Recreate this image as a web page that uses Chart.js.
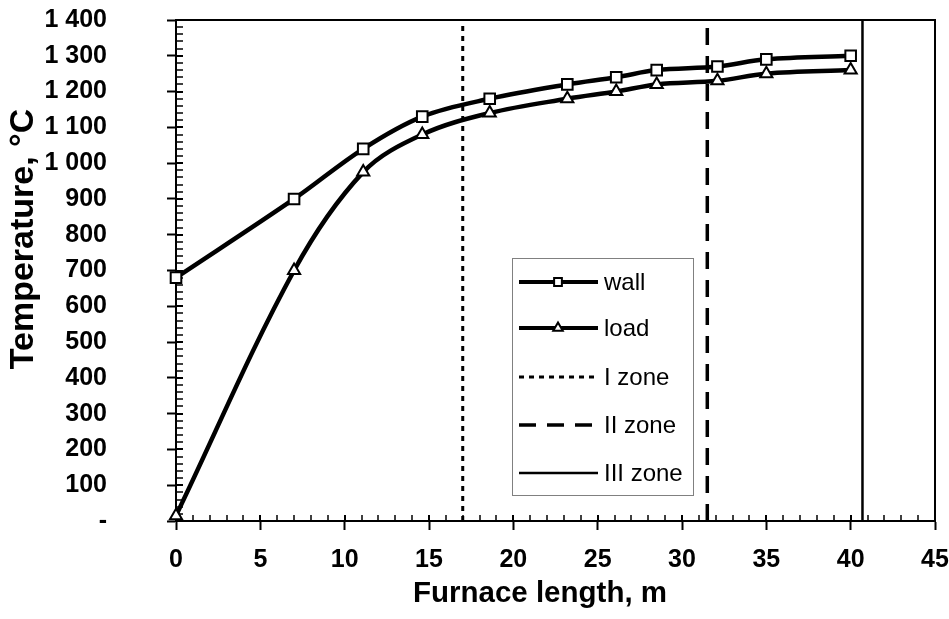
<!DOCTYPE html>
<html>
<head>
<meta charset="utf-8">
<script src="https://cdn.jsdelivr.net/npm/chart.js@4.4.0/dist/chart.umd.min.js"></script>
<style>
  html, body { margin: 0; padding: 0; background: #fff; }
</style>
</head>
<body>
<canvas id="furnaceChart" width="949" height="619"></canvas>
<script>
// ── DATA ──────────────────────────────────────────────
const lengths   = [0, 7, 11.1, 14.6, 18.6, 23.2, 26.1, 28.5, 32.1, 35, 40];
const wallTemps = [680, 900, 1040, 1130, 1180, 1220, 1240, 1260, 1270, 1290, 1300];
const loadTemps = [15, 700, 975, 1080, 1140, 1180, 1200, 1220, 1230, 1250, 1260];
const zoneNames = ['I zone', 'II zone', 'III zone'];
const zoneEnds  = [17, 31.5, 40.7];
const xRange = [0, 45], xStep = 5;
const yRange = [0, 1400], yStep = 100;

const FONT = '"Liberation Sans", Arial, sans-serif';
const toPoints = ys => lengths.map((x, i) => ({ x, y: ys[i] }));
const zoneLine = x => [{ x, y: yRange[0] }, { x, y: yRange[1] }];
const fmtTemp = v => v === 0 ? '-' : String(v).replace(/\B(?=(\d{3})+(?!\d))/g, ' ');

// ── MARKER ────────────────────────────────────────────
function marker(ctx, style, x, y, r) {
    ctx.beginPath();
    if (style === 'rect') { const s = r * Math.SQRT1_2; ctx.rect(x - s, y - s, 2 * s, 2 * s); }
    else { const c = r * Math.cos(Math.PI / 6); ctx.moveTo(x, y - r); ctx.lineTo(x + c, y + r / 2); ctx.lineTo(x - c, y + r / 2); ctx.closePath(); }
    ctx.fillStyle = '#fff'; ctx.fill();
    ctx.lineWidth = 2; ctx.strokeStyle = '#000'; ctx.stroke();
}

// ── FRAME, MINOR TICKS, TITLES, LEGEND ────────────────
const decor = {
    id: 'decor',
    beforeDatasetsDraw(chart) {
        const { ctx, chartArea: a, scales: { x, y } } = chart;
        ctx.save();
        ctx.strokeStyle = '#000';
        ctx.lineWidth = 2;
        ctx.beginPath(); ctx.moveTo(a.left, a.top); ctx.lineTo(a.right, a.top); ctx.lineTo(a.right, a.bottom); ctx.stroke();
        // inner ticks: every 1 m on x, every 20 °C on y
        for (let v = xRange[0]; v <= xRange[1]; v += 1) {
            const px = Math.round(x.getPixelForValue(v));
            ctx.lineWidth = v % xStep ? 1.5 : 2;
            ctx.beginPath(); ctx.moveTo(px, a.bottom); ctx.lineTo(px, a.bottom - 6); ctx.stroke();
        }
        for (let v = yRange[0]; v <= yRange[1]; v += yStep / 5) {
            const py = Math.round(y.getPixelForValue(v));
            ctx.lineWidth = v % yStep ? 1.5 : 2;
            ctx.beginPath(); ctx.moveTo(a.left, py); ctx.lineTo(a.left + 7, py); ctx.stroke();
        }
        ctx.restore();
    },
    afterDraw(chart) {
        const { ctx } = chart;
        ctx.save();
        ctx.fillStyle = '#000';
        ctx.textAlign = 'center'; ctx.textBaseline = 'alphabetic';
        ctx.font = 'bold 29.5px ' + FONT;
        ctx.fillText('Furnace length, m', 540, 602);
        ctx.translate(33, 239); ctx.rotate(-Math.PI / 2);
        ctx.font = 'bold 34px ' + FONT;
        ctx.fillText('Temperature, °C', 0, 0);
        ctx.restore();

        // legend box
        const box = { l: 512, t: 258, r: 693, b: 495 }, rowY = [282, 328, 377, 425, 473];
        ctx.save();
        ctx.fillStyle = '#fff'; ctx.fillRect(box.l, box.t, box.r - box.l, box.b - box.t);
        ctx.strokeStyle = '#808080'; ctx.lineWidth = 1; ctx.strokeRect(box.l + 0.5, box.t + 0.5, box.r - box.l, box.b - box.t);
        chart.data.datasets.forEach((ds, i) => {
            const yy = rowY[i];
            ctx.setLineDash(ds.borderDash || []);
            ctx.lineWidth = Math.min(ds.borderWidth, 4); ctx.strokeStyle = '#000';
            ctx.beginPath(); ctx.moveTo(519, yy); ctx.lineTo(598, yy); ctx.stroke();
            ctx.setLineDash([]);
            if (ds.pointRadius) marker(ctx, ds.pointStyle, 558, yy, 5.5);
            ctx.fillStyle = '#000'; ctx.font = '24px ' + FONT; ctx.textAlign = 'left'; ctx.textBaseline = 'middle';
            ctx.fillText(ds.label, 604, yy + 1);
        });
        ctx.restore();
    }
};

// ── CHART ─────────────────────────────────────────────
const curve = (label, ys, style) => ({
    label, data: toPoints(ys), borderColor: '#000', borderWidth: 4.5, tension: 0.35, clip: false,
    pointStyle: style, pointRadius: style === 'rect' ? 7.5 : 7, pointBorderWidth: 2,
    pointBackgroundColor: '#fff', pointBorderColor: '#000', pointHoverRadius: 7
});
const zone = (i, dash, width) => ({
    label: zoneNames[i], data: zoneLine(zoneEnds[i]), borderColor: '#000', borderWidth: width,
    borderDash: dash, pointRadius: 0, tension: 0, borderCapStyle: 'butt'
});

new Chart(document.getElementById('furnaceChart'), {
    type: 'line',
    data: {
        datasets: [
            curve('wall', wallTemps, 'rect'),
            curve('load', loadTemps, 'triangle'),
            zone(0, [5, 5], 3),
            zone(1, [17, 11], 3.5),
            zone(2, [], 2.5)
        ]
    },
    plugins: [decor],
    options: {
        responsive: false,
        animation: false,
        layout: { autoPadding: false, padding: { top: 20, right: 14, left: 0, bottom: 0 } },
        plugins: { legend: { display: false }, tooltip: { enabled: false } },
        scales: {
            x: {
                type: 'linear', min: xRange[0], max: xRange[1],
                afterFit: s => { s.height = 98; s.paddingLeft = 0; s.paddingRight = 0; },
                grid: { drawOnChartArea: false, drawTicks: true, tickLength: 9, tickColor: '#000', tickWidth: 2 },
                border: { display: true, color: '#000', width: 2 },
                ticks: { stepSize: xStep, padding: 15, color: '#000', font: { family: FONT, size: 25, weight: 'bold' } }
            },
            y: {
                type: 'linear', min: yRange[0], max: yRange[1],
                afterFit: s => { s.width = 176; s.paddingTop = 0; s.paddingBottom = 0; },
                grid: { drawOnChartArea: false, drawTicks: true, tickLength: 9, tickColor: '#000', tickWidth: 2 },
                border: { display: true, color: '#000', width: 2 },
                ticks: { stepSize: yStep, padding: 60, color: '#000', callback: fmtTemp, font: { family: FONT, size: 25, weight: 'bold' } }
            }
        }
    }
});
</script>
</body>
</html>
